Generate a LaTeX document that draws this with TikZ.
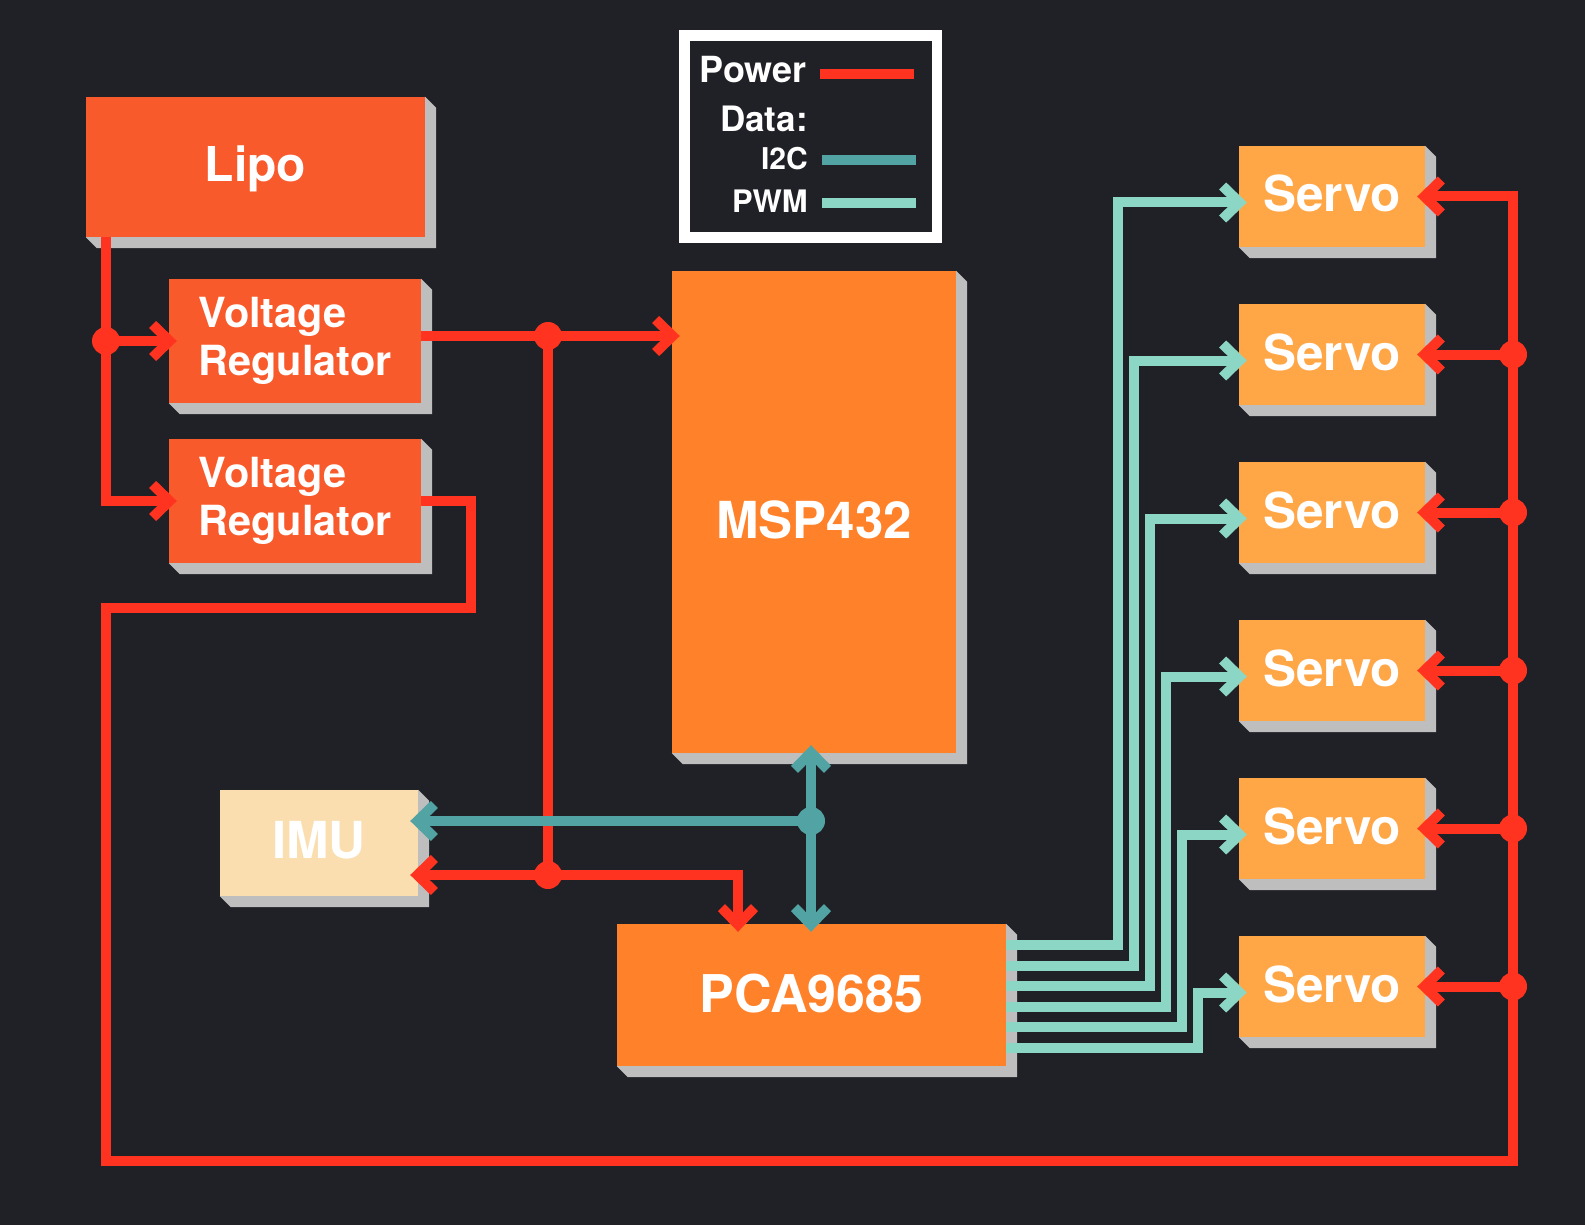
\documentclass[tikz,border=0pt]{standalone}
\usepackage{fontspec}
\setmainfont{TeX Gyre Heros}
\usetikzlibrary{positioning}
\usetikzlibrary{calc}
\usetikzlibrary{arrows.meta}

\definecolor{backdrop}{HTML}{202126}
\definecolor{shadowgrey}{HTML}{BEBEBE}
\definecolor{lipored}{HTML}{F95A2C}
\definecolor{chiporange}{HTML}{FF8129}
\definecolor{servoorange}{HTML}{FFA647}
\definecolor{imucream}{HTML}{FADEAF}
\definecolor{wirered}{HTML}{FF331F}
\definecolor{wireteal}{HTML}{52A3A3}
\definecolor{wiremint}{HTML}{8CD6C6}

\pgfdeclarelayer{bg}
\pgfdeclarelayer{shade}
\pgfsetlayers{bg,shade,main}

\begin{document}
\begin{tikzpicture}[x=1pt, y=-1pt, line join=miter,
    block/.style={inner sep=0pt, text=white},
    servo/.style={block, fill=servoorange, minimum width=186pt, minimum height=101pt,
        text height=36pt, text depth=5pt, font=\bfseries\fontsize{49.5}{49.5}\selectfont},
    regulator/.style={block, fill=lipored, minimum width=252pt, minimum height=124pt,
        align=left, font=\bfseries\fontsize{41.5}{48}\selectfont},
    legendtext/.style={inner sep=0pt, text=white, anchor=base east},
    power/.style={draw=wirered, line width=10pt},
    itwoc/.style={draw=wireteal, line width=10pt},
    pwm/.style={draw=wiremint, line width=10pt},
    >={Straight Barb[length=17pt, width=33pt]},
    tip/.style={->, shorten >=-8pt}]
    \newcommand\depth{11}
    \newcommand\dotsize{14pt}
    \newcommand\boxshadow[1]{
        \begin{pgfonlayer}{shade}
            \fill[shadowgrey] (#1.south west) -- ++(\depth, \depth)
                -- ($(#1.south east)+(\depth, \depth)$)
                -- ($(#1.north east)+(\depth, \depth)$)
                -- (#1.north east) -- cycle;
        \end{pgfonlayer}}

    \begin{pgfonlayer}{bg}
        \fill[backdrop] (0, 0) rectangle (1585, 1225);
    \end{pgfonlayer}

    \node[block, fill=lipored, minimum width=339pt, minimum height=140pt,
        text height=35pt, text depth=5pt,
        font=\bfseries\fontsize{48}{48}\selectfont] (lipo) at (255.5, 167) {Lipo};
    \node[regulator] (vr1) at (295, 341) {Voltage\\Regulator};
    \node[regulator] (vr2) at (295, 501) {Voltage\\Regulator};
    \node[block, fill=chiporange, minimum width=284pt, minimum height=482pt,
        text height=52pt, text depth=0pt,
        font=\bfseries\fontsize{51}{51}\selectfont] (msp) at (814, 512) {MSP432};
    \node[block, fill=imucream, minimum width=198pt, minimum height=106pt,
        text height=37pt, text depth=6pt,
        font=\bfseries\fontsize{51}{51}\selectfont] (imu) at (319, 843) {IMU};
    \node[block, fill=chiporange, minimum width=389pt, minimum height=142pt,
        text height=38pt, text depth=4pt,
        font=\bfseries\fontsize{52}{52}\selectfont] (pca) at (811.5, 995) {PCA9685};

    \node[servo] (servo1) at (1332, 196.5) {Servo};
    \node[servo] (servo2) at (1332, 354.5) {Servo};
    \node[servo] (servo3) at (1332, 512.5) {Servo};
    \node[servo] (servo4) at (1332, 670.5) {Servo};
    \node[servo] (servo5) at (1332, 828.5) {Servo};
    \node[servo] (servo6) at (1332, 986.5) {Servo};

    \boxshadow{lipo}
    \boxshadow{vr1}
    \boxshadow{vr2}
    \boxshadow{msp}
    \boxshadow{imu}
    \boxshadow{pca}
    \boxshadow{servo1}
    \boxshadow{servo2}
    \boxshadow{servo3}
    \boxshadow{servo4}
    \boxshadow{servo5}
    \boxshadow{servo6}

    \node[draw=white, line width=10.5pt, minimum width=252.5pt, minimum height=202pt]
        (legend) at (810.75, 136.5) {};
    \node[legendtext, font=\bfseries\fontsize{36}{36}\selectfont] (powerkey) at (807, 83) {Power};
    \node[legendtext, font=\bfseries\fontsize{35}{35}\selectfont] (datakey) at (808, 132) {Data:};
    \node[legendtext, font=\bfseries\fontsize{30}{30}\selectfont] (itwockey) at (808, 170) {I2C};
    \node[legendtext, font=\bfseries\fontsize{31}{31}\selectfont] (pwmkey) at (808, 213) {PWM};
    \draw[power] (820, 74) -- (914, 74);
    \draw[itwoc] (822, 160.5) -- (916, 160.5);
    \draw[pwm] (822, 203) -- (916, 203);

    \coordinate (split) at (106, 341);
    \coordinate (bend) at (471, 608);
    \coordinate (corner) at (106, 1161);
    \coordinate (rail) at (1513, 1161);
    \coordinate (tee) at (548, 336);
    \coordinate (fork) at (548, 875);
    \coordinate (drop) at (738, 875);
    \coordinate (bus) at (811, 821);

    \draw[power, tip] (lipo.south -| split) -- (split |- vr2) -- (vr2);
    \draw[power, tip] (split) -- (vr1);
    \draw[power, tip] (vr2.east) -| (bend) -- (bend -| corner) -- (corner)
        -- (rail) -- (rail |- servo1) -- (servo1);
    \draw[power, tip] (vr1.east |- tee) -- (msp.west |- tee);
    \draw[power] (tee) -- (fork);
    \draw[power, tip] (fork) -- (imu.east |- fork);
    \draw[power, tip] (fork) -- (drop) -- (drop |- pca.north);

    \draw[power, tip] (rail |- servo2) -- (servo2);
    \draw[power, tip] (rail |- servo3) -- (servo3);
    \draw[power, tip] (rail |- servo4) -- (servo4);
    \draw[power, tip] (rail |- servo5) -- (servo5);
    \draw[power, tip] (rail |- servo6) -- (servo6);

    \fill[wirered] (split) circle (\dotsize);
    \fill[wirered] (tee) circle (\dotsize);
    \fill[wirered] (fork) circle (\dotsize);
    \fill[wirered] (rail |- servo2) circle (\dotsize);
    \fill[wirered] (rail |- servo3) circle (\dotsize);
    \fill[wirered] (rail |- servo4) circle (\dotsize);
    \fill[wirered] (rail |- servo5) circle (\dotsize);
    \fill[wirered] (rail |- servo6) circle (\dotsize);

    \draw[itwoc, tip] (bus) -- (bus |- msp.south);
    \draw[itwoc, tip] (bus) -- (bus |- pca.north);
    \draw[itwoc, tip] (bus) -- (imu.east |- bus);
    \fill[wireteal] (bus) circle (\dotsize);

    \draw[pwm, tip] (pca.east |- 0, 945) -| (1118, 202.5) -- (servo1.west |- 0, 202.5);
    \draw[pwm, tip] (pca.east |- 0, 965.5) -| (1134, 360.5) -- (servo2.west |- 0, 360.5);
    \draw[pwm, tip] (pca.east |- 0, 986) -| (1150, 518.5) -- (servo3.west |- 0, 518.5);
    \draw[pwm, tip] (pca.east |- 0, 1006.5) -| (1166, 676.5) -- (servo4.west |- 0, 676.5);
    \draw[pwm, tip] (pca.east |- 0, 1027) -| (1182, 834.5) -- (servo5.west |- 0, 834.5);
    \draw[pwm, tip] (pca.east |- 0, 1047.5) -| (1198, 992.5) -- (servo6.west |- 0, 992.5);
\end{tikzpicture}
\end{document}
